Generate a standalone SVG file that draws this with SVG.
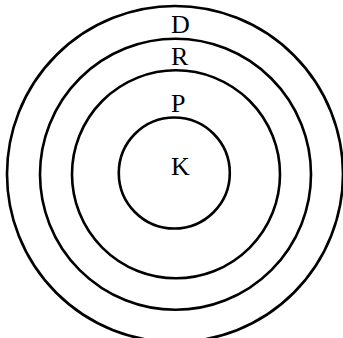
<svg xmlns="http://www.w3.org/2000/svg" width="343" height="338" viewBox="0 0 343 338">
<style>
.ring{fill:none;stroke:#000;stroke-width:2.6}
.lbl{font-family:"Liberation Serif","Times New Roman",serif;font-size:26px;fill:#000}
</style>
<rect width="343" height="338" fill="#fff"/>
<g id="D"><circle class="ring" cx="175" cy="174" r="168"/><text class="lbl" x="171" y="33">D</text></g>
<g id="R"><circle class="ring" cx="175.5" cy="174.3" r="135.5"/><text class="lbl" x="171" y="65">R</text></g>
<g id="P"><circle class="ring" cx="176" cy="174.3" r="104"/><text class="lbl" x="171" y="112">P</text></g>
<g id="K"><circle class="ring" cx="174.3" cy="173" r="55.5"/><text class="lbl" x="171" y="175">K</text></g>
<g id="connectors"/>
</svg>
